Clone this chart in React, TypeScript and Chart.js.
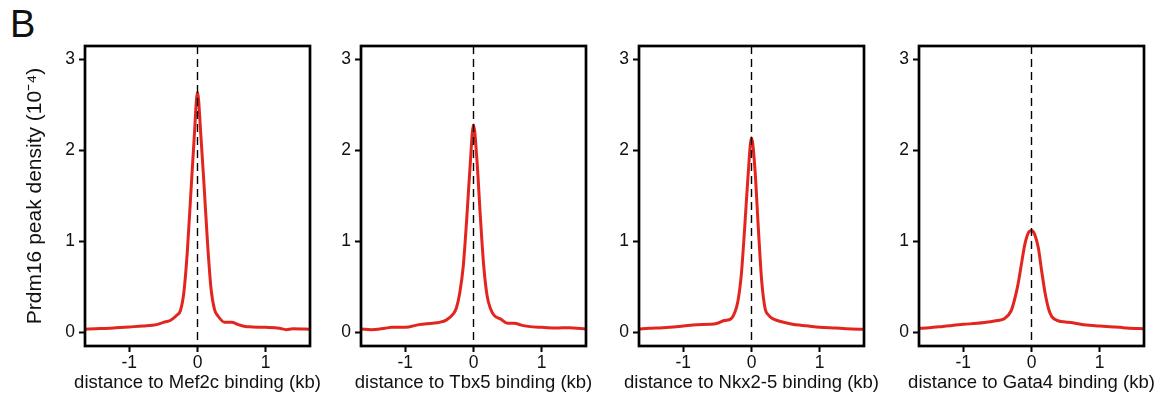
import React, { useEffect, useRef } from "react";
import { Chart, registerables } from "chart.js";

Chart.register(...registerables);

// ---- data ----
const distanceKb = [
  -1.65, -1.5, -1.3, -1.2, -1.0, -0.8, -0.6, -0.5, -0.4, -0.3, -0.25, -0.2, -0.15, -0.1, -0.05, 0,
  0.05, 0.1, 0.15, 0.2, 0.25, 0.3, 0.4, 0.5, 0.6, 0.7, 0.8, 1.0, 1.2, 1.3, 1.4, 1.65,
];

const mef2cDensity = [
  0.035, 0.04, 0.045, 0.05, 0.06, 0.07, 0.085, 0.11, 0.13, 0.19, 0.24, 0.44, 0.88, 1.5, 2.12, 2.64,
  2.16, 1.57, 0.95, 0.47, 0.25, 0.18, 0.11, 0.11, 0.085, 0.065, 0.06, 0.055, 0.045, 0.03, 0.04, 0.035,
];

const tbx5Density = [
  0.037, 0.03, 0.045, 0.055, 0.055, 0.085, 0.1, 0.11, 0.135, 0.2, 0.27, 0.44, 0.73, 1.24, 1.83, 2.28,
  1.9, 1.28, 0.73, 0.4, 0.26, 0.19, 0.146, 0.1, 0.1, 0.08, 0.066, 0.055, 0.048, 0.05, 0.05, 0.037,
];

const nkx25Density = [
  0.037, 0.044, 0.05, 0.055, 0.07, 0.085, 0.088, 0.1, 0.13, 0.15, 0.21, 0.34, 0.63, 1.15, 1.73, 2.14,
  1.8, 1.15, 0.56, 0.26, 0.19, 0.155, 0.125, 0.105, 0.09, 0.08, 0.073, 0.055, 0.048, 0.045, 0.04, 0.033,
];

const gata4Density = [
  0.044, 0.05, 0.065, 0.073, 0.088, 0.1, 0.117, 0.13, 0.15, 0.235, 0.356, 0.52, 0.74, 0.96, 1.09, 1.12,
  1.07, 0.93, 0.67, 0.43, 0.26, 0.17, 0.125, 0.115, 0.106, 0.092, 0.08, 0.07, 0.06, 0.055, 0.048, 0.04,
];

const panelTitles = [
  "distance to Mef2c binding (kb)",
  "distance to Tbx5 binding (kb)",
  "distance to Nkx2-5 binding (kb)",
  "distance to Gata4 binding (kb)",
];

const yTickValues = [0, 1, 2, 3];
const xTickValues = [-1, 0, 1];
const yAxisTitle = "Prdm16 peak density (10⁻⁴)";
const panelLetter = "B";

// ---- styling / layout ----
const FONT = "'Liberation Sans', Arial, Helvetica, sans-serif";
const RED = "#E2261F";
const TEXT = "#111111";
const BOX_TOP = 46;
const BOX_BOTTOM = 346;
const BOX_W = 225;
const RIGHT_PAD = 30;
const CANVAS_H = 402;

const decorPlugin = {
  id: "decor",
  afterDatasetsDraw(chart: any) {
    const { ctx, chartArea: a, scales } = chart;
    const x0 = scales.x.getPixelForValue(0);
    ctx.save();
    ctx.strokeStyle = "#000";
    ctx.lineWidth = 1.4;
    ctx.setLineDash([8, 5]);
    ctx.beginPath();
    ctx.moveTo(x0, a.top);
    ctx.lineTo(x0, a.bottom);
    ctx.stroke();
    ctx.setLineDash([]);
    ctx.lineWidth = 2.7;
    ctx.strokeRect(a.left, a.top, a.right - a.left, a.bottom - a.top);
    ctx.restore();
  },
  afterDraw(chart: any) {
    const opts = chart.options.plugins.decor || {};
    if (!opts.xTitle) return;
    const { ctx, chartArea: a } = chart;
    ctx.save();
    ctx.fillStyle = TEXT;
    ctx.font = `18.5px ${FONT}`;
    ctx.textAlign = "center";
    ctx.textBaseline = "alphabetic";
    ctx.fillText(opts.xTitle, (a.left + a.right) / 2, 388);
    ctx.restore();
  },
};

type PanelProps = {
  values: number[];
  xTitle: string;
  boxLeft: number;
  axisW: number;
  showYTitle: boolean;
};

function Panel({ values, xTitle, boxLeft, axisW, showYTitle }: PanelProps) {
  const ref = useRef<HTMLCanvasElement | null>(null);
  const width = axisW + BOX_W + RIGHT_PAD;

  useEffect(() => {
    if (!ref.current) return;
    const chart = new Chart(ref.current, {
      type: "line",
      data: {
        datasets: [
          {
            data: distanceKb.map((x, i) => ({ x, y: values[i] })),
            borderColor: RED,
            borderWidth: 3,
            pointRadius: 0,
            cubicInterpolationMode: "monotone",
            fill: false,
          },
        ],
      },
      options: {
        animation: false,
        responsive: false,
        maintainAspectRatio: false,
        events: [],
        layout: { padding: { top: BOX_TOP, right: RIGHT_PAD, left: 0, bottom: 0 } },
        plugins: {
          legend: { display: false },
          tooltip: { enabled: false },
          decor: { xTitle },
        } as any,
        scales: {
          x: {
            type: "linear",
            min: -1.65,
            max: 1.65,
            afterBuildTicks: (s: any) => {
              s.ticks = xTickValues.map((v) => ({ value: v }));
            },
            afterFit: (s: any) => {
              s.height = CANVAS_H - BOX_BOTTOM;
            },
            grid: {
              display: true,
              drawOnChartArea: false,
              drawTicks: true,
              tickLength: 6,
              tickWidth: 2,
              tickColor: "#000",
            },
            border: { display: false },
            ticks: {
              color: TEXT,
              font: { family: FONT, size: 17.5 },
              padding: 1,
              maxRotation: 0,
              autoSkip: false,
              callback: (v: any) => String(v),
            },
          },
          y: {
            type: "linear",
            min: -0.15,
            max: 3.15,
            afterBuildTicks: (s: any) => {
              s.ticks = yTickValues.map((v) => ({ value: v }));
            },
            afterFit: (s: any) => {
              s.width = axisW;
            },
            grid: {
              display: true,
              drawOnChartArea: false,
              drawTicks: true,
              tickLength: 6,
              tickWidth: 2,
              tickColor: "#000",
            },
            border: { display: false },
            ticks: {
              color: TEXT,
              font: { family: FONT, size: 17.5 },
              padding: 4,
              autoSkip: false,
              callback: (v: any) => String(v),
            },
            title: {
              display: showYTitle,
              text: yAxisTitle,
              color: TEXT,
              font: { family: FONT, size: 21 },
              padding: { top: 23, bottom: 0 },
            },
          },
        },
      } as any,
      plugins: [decorPlugin],
    });
    return () => chart.destroy();
  }, [values, xTitle, axisW, showYTitle]);

  return (
    <canvas
      ref={ref}
      width={width}
      height={CANVAS_H}
      style={{
        position: "absolute",
        left: boxLeft - axisW,
        top: 0,
        width,
        height: CANVAS_H,
        display: "block",
      }}
    />
  );
}

const panelSeries = [mef2cDensity, tbx5Density, nkx25Density, gata4Density];
const panelBoxLefts = [85, 361, 639, 919];

export default function App() {
  return (
    <div
      style={{
        position: "absolute",
        left: 0,
        top: 0,
        width: 1164,
        height: 402,
        background: "#ffffff",
        overflow: "hidden",
      }}
    >
      <div
        style={{
          position: "absolute",
          left: 10,
          top: 5,
          fontFamily: FONT,
          fontSize: 38,
          lineHeight: 1,
          color: TEXT,
        }}
      >
        {panelLetter}
      </div>
      {panelSeries.map((vals, i) => (
        <Panel
          key={i}
          values={vals}
          xTitle={panelTitles[i]}
          boxLeft={panelBoxLefts[i]}
          axisW={i === 0 ? 85 : 60}
          showYTitle={i === 0}
        />
      ))}
    </div>
  );
}
